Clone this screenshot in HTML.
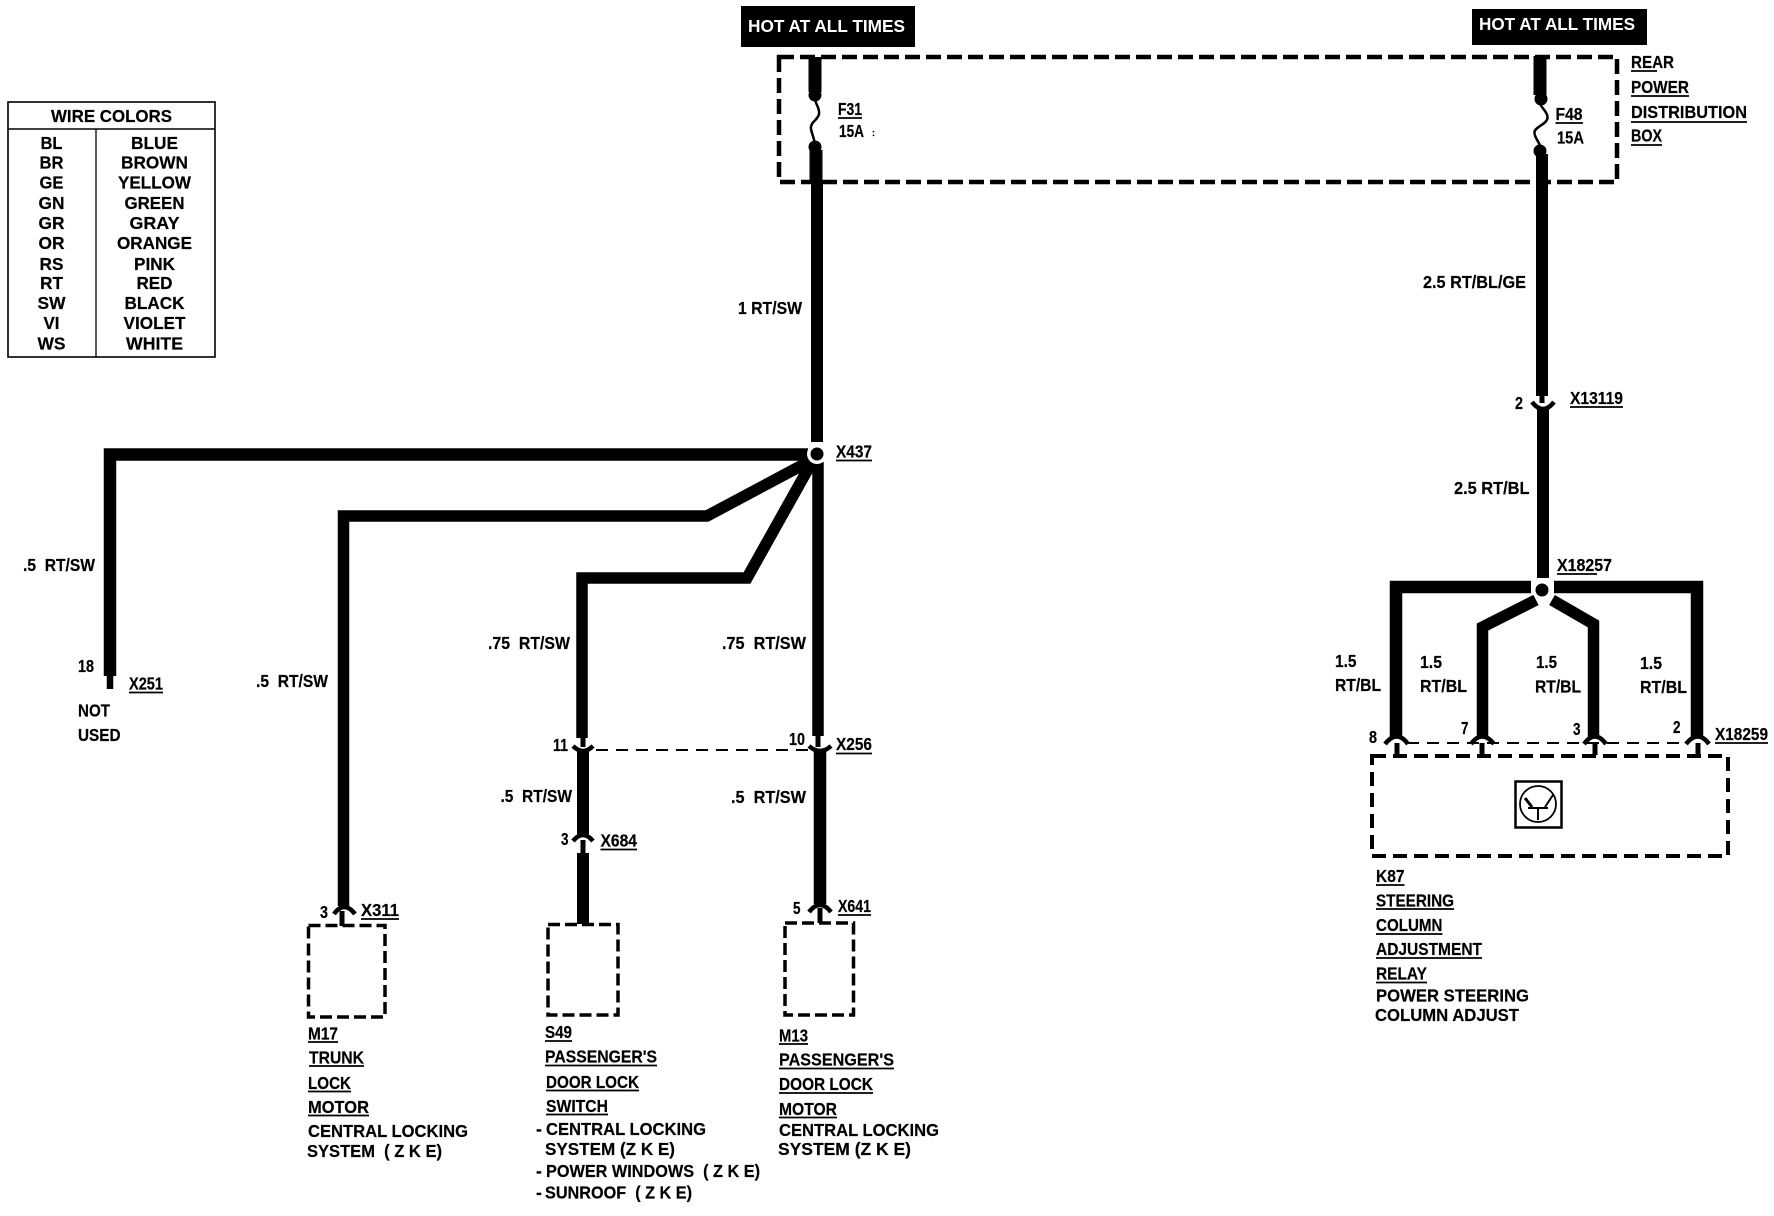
<!DOCTYPE html>
<html>
<head>
<meta charset="utf-8">
<title>Wiring diagram</title>
<style>
html,body{margin:0;padding:0;background:#fff;}
svg{display:block;}
text{font-family:"Liberation Sans",sans-serif;font-weight:bold;font-size:17.5px;fill:#000;stroke:#000;stroke-width:.2px;}
.w{fill:none;stroke:#000;stroke-linejoin:miter;stroke-linecap:butt;}
.u{stroke:#000;stroke-width:1.8;}
.c{fill:none;stroke:#000;stroke-width:4.5;}
</style>
</head>
<body>
<svg xmlns="http://www.w3.org/2000/svg" width="1774" height="1216" viewBox="0 0 1774 1216">
<rect width="1774" height="1216" fill="#fff"/>

<!-- Hot boxes -->
<rect x="741" y="6" width="174" height="41" fill="#000"/>
<text x="748" y="32" textLength="157" lengthAdjust="spacingAndGlyphs" style="fill:#fff;stroke:none">HOT AT ALL TIMES</text>
<rect x="1472" y="9" width="175" height="36" fill="#000"/>
<text x="1479" y="30" textLength="156" lengthAdjust="spacingAndGlyphs" style="fill:#fff;stroke:none">HOT AT ALL TIMES</text>

<!-- Distribution box -->
<rect x="779" y="57" width="838" height="125" fill="none" stroke="#000" stroke-width="4.5" stroke-dasharray="15 6"/>

<!-- Wire color table -->
<rect x="8" y="102" width="207" height="255" fill="none" stroke="#000" stroke-width="1.6"/>
<line x1="8" y1="129" x2="215" y2="129" stroke="#000" stroke-width="1.6"/>
<line x1="96" y1="129" x2="96" y2="357" stroke="#000" stroke-width="1.3"/>
<text x="51" y="122" textLength="121" lengthAdjust="spacingAndGlyphs">WIRE COLORS</text>
<g text-anchor="middle">
<text x="51.5" y="149" textLength="22" lengthAdjust="spacingAndGlyphs">BL</text><text x="154.5" y="149" textLength="47" lengthAdjust="spacingAndGlyphs">BLUE</text>
<text x="51.5" y="168.500" textLength="24" lengthAdjust="spacingAndGlyphs">BR</text><text x="154.5" y="168.500" textLength="67" lengthAdjust="spacingAndGlyphs">BROWN</text>
<text x="51.5" y="188.500" textLength="24" lengthAdjust="spacingAndGlyphs">GE</text><text x="154.5" y="188.500" textLength="73" lengthAdjust="spacingAndGlyphs">YELLOW</text>
<text x="51.5" y="209" textLength="26" lengthAdjust="spacingAndGlyphs">GN</text><text x="154.5" y="209" textLength="60" lengthAdjust="spacingAndGlyphs">GREEN</text>
<text x="51.5" y="229" textLength="26" lengthAdjust="spacingAndGlyphs">GR</text><text x="154.5" y="229" textLength="50" lengthAdjust="spacingAndGlyphs">GRAY</text>
<text x="51.5" y="249" textLength="26" lengthAdjust="spacingAndGlyphs">OR</text><text x="154.5" y="249" textLength="75" lengthAdjust="spacingAndGlyphs">ORANGE</text>
<text x="51.5" y="270" textLength="24" lengthAdjust="spacingAndGlyphs">RS</text><text x="154.5" y="270" textLength="41" lengthAdjust="spacingAndGlyphs">PINK</text>
<text x="51.5" y="289" textLength="23" lengthAdjust="spacingAndGlyphs">RT</text><text x="154.5" y="289" textLength="36" lengthAdjust="spacingAndGlyphs">RED</text>
<text x="51.5" y="309" textLength="28" lengthAdjust="spacingAndGlyphs">SW</text><text x="154.5" y="309" textLength="60" lengthAdjust="spacingAndGlyphs">BLACK</text>
<text x="51.5" y="329" textLength="16" lengthAdjust="spacingAndGlyphs">VI</text><text x="154.5" y="329" textLength="62" lengthAdjust="spacingAndGlyphs">VIOLET</text>
<text x="51.5" y="349.500" textLength="28" lengthAdjust="spacingAndGlyphs">WS</text><text x="154.5" y="349.500" textLength="57" lengthAdjust="spacingAndGlyphs">WHITE</text>
</g>

<!-- Left feed and fuse F31 -->
<line class="w" x1="815" y1="57" x2="815" y2="92" stroke-width="13"/>
<circle cx="815" cy="95" r="6.500"/>
<path d="M815 98 C815 104 820 108 819 114 C818 120 810 122 811 129 C812 135 815 139 815 147" fill="none" stroke="#000" stroke-width="2.500"/>
<circle cx="815" cy="147" r="6.500"/>
<line class="w" x1="816" y1="150" x2="816" y2="184" stroke-width="13"/>
<line class="w" x1="817" y1="184" x2="817" y2="442" stroke-width="12"/>

<!-- Left branches -->
<polyline class="w" points="110,676 110,454.500 808,454.500" stroke-width="12.500"/>
<line class="w" x1="110" y1="676" x2="110" y2="689" stroke-width="6.500"/>
<polyline class="w" points="343.500,906 343.500,516 707,516 812,460" stroke-width="11.500"/>
<polyline class="w" points="582,738 582,578 747,578 812,462" stroke-width="11.500"/>
<line class="w" x1="818" y1="462" x2="818" y2="736" stroke-width="11.500"/>
<circle cx="817" cy="454" r="10" fill="#fff"/>
<circle cx="817" cy="454" r="6.500"/>

<!-- X256 connectors -->
<line class="w" x1="583" y1="736" x2="583" y2="747" stroke-width="5"/>
<line class="w" x1="818" y1="736" x2="818" y2="747" stroke-width="5"/>
<path class="c" d="M573 746 Q583 756 593 746"/>
<path class="c" d="M809 746 Q820 756 831 746"/>
<line x1="596" y1="750" x2="808" y2="750" stroke="#000" stroke-width="2" stroke-dasharray="12 8"/>
<line class="w" x1="583" y1="751" x2="583" y2="834" stroke-width="12"/>
<line class="w" x1="820" y1="752" x2="820" y2="904" stroke-width="12.500"/>

<!-- X684 -->
<path class="c" d="M573 841 Q583 829 593 841"/>
<line class="w" x1="583" y1="840" x2="583" y2="853" stroke-width="5"/>
<line class="w" x1="583" y1="853" x2="583" y2="924" stroke-width="12"/>

<!-- X641 -->
<path class="c" d="M809 912 Q820 898 831 912"/>
<line class="w" x1="820" y1="908" x2="820" y2="923" stroke-width="5"/>

<!-- X311 -->
<path class="c" d="M334 914 Q344 900 355 914"/>
<line class="w" x1="342" y1="911" x2="342" y2="926" stroke-width="5"/>

<!-- Component boxes -->
<rect x="308.500" y="925.500" width="76.500" height="91.500" fill="none" stroke="#000" stroke-width="3.500" stroke-dasharray="12 5"/>
<rect x="548" y="924.500" width="70" height="90.500" fill="none" stroke="#000" stroke-width="3.500" stroke-dasharray="12 5"/>
<rect x="785" y="923" width="68.500" height="92" fill="none" stroke="#000" stroke-width="3.500" stroke-dasharray="12 5"/>

<!-- Right feed and fuse F48 -->
<line class="w" x1="1540" y1="56" x2="1540" y2="95" stroke-width="13"/>
<circle cx="1541" cy="99" r="6.500"/>
<path d="M1540 103 C1541 108 1548 112 1547.500 118 C1547 124 1535 127 1534.500 132 C1534 138 1540 142 1540 147" fill="none" stroke="#000" stroke-width="2.500"/>
<circle cx="1540" cy="151" r="6.500"/>
<line class="w" x1="1542" y1="154" x2="1542" y2="396" stroke-width="12"/>
<line class="w" x1="1542" y1="396" x2="1542" y2="403" stroke-width="5"/>
<path class="c" d="M1532 402 Q1543 416 1554 402"/>
<line class="w" x1="1543" y1="409" x2="1543" y2="578" stroke-width="12"/>

<!-- Right branches -->
<polyline class="w" points="1396,737 1396,587 1531,587" stroke-width="12.500"/>
<polyline class="w" points="1697,737 1697,587 1554,587" stroke-width="12.500"/>
<polyline class="w" points="1482.500,737 1482.500,627 1536,600" stroke-width="11.500"/>
<polyline class="w" points="1593.500,737 1593.500,624 1552,600" stroke-width="11.500"/>
<circle cx="1542" cy="590" r="10" fill="#fff"/>
<circle cx="1542" cy="590" r="6.500"/>

<!-- X18259 connectors -->
<line x1="1407" y1="743" x2="1688" y2="743" stroke="#000" stroke-width="2" stroke-dasharray="12 8"/>
<path class="c" d="M1385 744 Q1397 729 1408 744"/>
<path class="c" d="M1471 744 Q1482 729 1494 744"/>
<path class="c" d="M1584 744 Q1595 729 1606 744"/>
<path class="c" d="M1686 744 Q1698 729 1709 744"/>
<line class="w" x1="1397" y1="743" x2="1397" y2="755" stroke-width="5"/>
<line class="w" x1="1482" y1="743" x2="1482" y2="755" stroke-width="5"/>
<line class="w" x1="1595" y1="743" x2="1595" y2="755" stroke-width="5"/>
<line class="w" x1="1698" y1="743" x2="1698" y2="755" stroke-width="5"/>

<!-- K87 box -->
<rect x="1372" y="756" width="356" height="100" fill="none" stroke="#000" stroke-width="4" stroke-dasharray="14 7"/>
<rect x="1515.500" y="781.500" width="46" height="46" fill="none" stroke="#000" stroke-width="2.500"/>
<ellipse cx="1538" cy="804" rx="18" ry="18" fill="none" stroke="#000" stroke-width="1.800"/>
<line x1="1528" y1="808" x2="1548" y2="808" stroke="#000" stroke-width="2"/>
<line x1="1538" y1="808" x2="1538" y2="820" stroke="#000" stroke-width="2"/>
<line x1="1525" y1="798" x2="1532" y2="807" stroke="#000" stroke-width="3"/>
<line x1="1553" y1="795" x2="1545" y2="807" stroke="#000" stroke-width="2"/>

<!-- Fuse labels -->
<text x="838" y="115" textLength="24" lengthAdjust="spacingAndGlyphs">F31</text>
<line class="u" x1="838" y1="118" x2="862" y2="118"/>
<text x="839" y="137" textLength="25" lengthAdjust="spacingAndGlyphs">15A</text>
<text x="872" y="136" style="font-size:9px">:</text>
<text x="1555.500" y="120" textLength="27" lengthAdjust="spacingAndGlyphs">F48</text>
<line class="u" x1="1555.500" y1="123" x2="1583" y2="123"/>
<text x="1557" y="143.500" textLength="27" lengthAdjust="spacingAndGlyphs">15A</text>

<!-- Distribution box labels -->
<text x="1631" y="68" textLength="43" lengthAdjust="spacingAndGlyphs">REAR</text>
<line class="u" x1="1631" y1="71" x2="1657" y2="71"/>
<text x="1631" y="93" textLength="58" lengthAdjust="spacingAndGlyphs">POWER</text>
<line class="u" x1="1631" y1="96" x2="1689" y2="96"/>
<text x="1631" y="118" textLength="116" lengthAdjust="spacingAndGlyphs">DISTRIBUTION</text>
<line class="u" x1="1631" y1="122" x2="1747" y2="122"/>
<text x="1631" y="141.500" textLength="31" lengthAdjust="spacingAndGlyphs">BOX</text>
<line class="u" x1="1631" y1="145" x2="1662" y2="145"/>

<!-- Left wire labels -->
<text x="738" y="314" textLength="64" lengthAdjust="spacingAndGlyphs">1 RT/SW</text>
<text x="836" y="457.500" textLength="36" lengthAdjust="spacingAndGlyphs">X437</text>
<line class="u" x1="836" y1="460.500" x2="872" y2="460.500"/>
<text x="23" y="571" textLength="72" lengthAdjust="spacingAndGlyphs" xml:space="preserve">.5  RT/SW</text>
<text x="78" y="672" textLength="16" lengthAdjust="spacingAndGlyphs">18</text>
<text x="129" y="689.500" textLength="34" lengthAdjust="spacingAndGlyphs">X251</text>
<line class="u" x1="129" y1="692.500" x2="163" y2="692.500"/>
<text x="78" y="716.500" textLength="32" lengthAdjust="spacingAndGlyphs">NOT</text>
<text x="78" y="741" textLength="42.500" lengthAdjust="spacingAndGlyphs">USED</text>
<text x="256" y="687" textLength="72" lengthAdjust="spacingAndGlyphs" xml:space="preserve">.5  RT/SW</text>
<text x="488" y="649" textLength="82" lengthAdjust="spacingAndGlyphs" xml:space="preserve">.75  RT/SW</text>
<text x="722" y="649" textLength="84" lengthAdjust="spacingAndGlyphs" xml:space="preserve">.75  RT/SW</text>
<text x="553" y="751" textLength="15" lengthAdjust="spacingAndGlyphs">11</text>
<text x="789" y="745" textLength="16" lengthAdjust="spacingAndGlyphs">10</text>
<text x="836" y="750" textLength="36" lengthAdjust="spacingAndGlyphs">X256</text>
<line class="u" x1="836" y1="753.500" x2="872" y2="753.500"/>
<text x="500.500" y="802" textLength="71.500" lengthAdjust="spacingAndGlyphs" xml:space="preserve">.5  RT/SW</text>
<text x="731" y="803" textLength="75" lengthAdjust="spacingAndGlyphs" xml:space="preserve">.5  RT/SW</text>
<text x="561" y="845" textLength="7.500" lengthAdjust="spacingAndGlyphs">3</text>
<text x="600.500" y="846.500" textLength="36.500" lengthAdjust="spacingAndGlyphs">X684</text>
<line class="u" x1="600.500" y1="849.500" x2="637" y2="849.500"/>
<text x="320" y="918" textLength="8" lengthAdjust="spacingAndGlyphs">3</text>
<text x="361" y="916" textLength="38" lengthAdjust="spacingAndGlyphs">X311</text>
<line class="u" x1="361" y1="919" x2="399" y2="919"/>
<text x="793" y="914" textLength="7.500" lengthAdjust="spacingAndGlyphs">5</text>
<text x="838" y="912" textLength="33" lengthAdjust="spacingAndGlyphs">X641</text>
<line class="u" x1="838" y1="915" x2="871" y2="915"/>

<!-- M17 -->
<text x="308" y="1039.500" textLength="30" lengthAdjust="spacingAndGlyphs">M17</text>
<line class="u" x1="308" y1="1042" x2="338" y2="1042"/>
<text x="309" y="1063.500" textLength="55" lengthAdjust="spacingAndGlyphs">TRUNK</text>
<line class="u" x1="309" y1="1066" x2="364" y2="1066"/>
<text x="308" y="1089" textLength="43" lengthAdjust="spacingAndGlyphs">LOCK</text>
<line class="u" x1="308" y1="1091.500" x2="351" y2="1091.500"/>
<text x="308" y="1113" textLength="61" lengthAdjust="spacingAndGlyphs">MOTOR</text>
<line class="u" x1="308" y1="1115.500" x2="369" y2="1115.500"/>
<text x="308" y="1137" textLength="160" lengthAdjust="spacingAndGlyphs">CENTRAL LOCKING</text>
<text x="307" y="1157" textLength="135" lengthAdjust="spacingAndGlyphs" xml:space="preserve">SYSTEM  ( Z K E)</text>

<!-- S49 -->
<text x="545" y="1038" textLength="27" lengthAdjust="spacingAndGlyphs">S49</text>
<line class="u" x1="545" y1="1041" x2="572" y2="1041"/>
<text x="545" y="1062.500" textLength="112" lengthAdjust="spacingAndGlyphs">PASSENGER'S</text>
<line class="u" x1="545" y1="1065.500" x2="657" y2="1065.500"/>
<text x="546" y="1088" textLength="93" lengthAdjust="spacingAndGlyphs">DOOR LOCK</text>
<line class="u" x1="546" y1="1090.500" x2="639" y2="1090.500"/>
<text x="546" y="1112" textLength="62" lengthAdjust="spacingAndGlyphs">SWITCH</text>
<line class="u" x1="546" y1="1114.500" x2="608" y2="1114.500"/>
<text x="536" y="1135">-</text>
<text x="546" y="1135" textLength="160" lengthAdjust="spacingAndGlyphs">CENTRAL LOCKING</text>
<text x="545" y="1155" textLength="130" lengthAdjust="spacingAndGlyphs">SYSTEM (Z K E)</text>
<text x="536" y="1177">-</text>
<text x="546" y="1177" textLength="214" lengthAdjust="spacingAndGlyphs" xml:space="preserve">POWER WINDOWS  ( Z K E)</text>
<text x="536" y="1198.500">-</text>
<text x="545" y="1198.500" textLength="147" lengthAdjust="spacingAndGlyphs" xml:space="preserve">SUNROOF  ( Z K E)</text>

<!-- M13 -->
<text x="779" y="1041.500" textLength="29" lengthAdjust="spacingAndGlyphs">M13</text>
<line class="u" x1="779" y1="1044" x2="808" y2="1044"/>
<text x="779" y="1065.500" textLength="115" lengthAdjust="spacingAndGlyphs">PASSENGER'S</text>
<line class="u" x1="779" y1="1068.500" x2="894" y2="1068.500"/>
<text x="779" y="1090" textLength="94" lengthAdjust="spacingAndGlyphs">DOOR LOCK</text>
<line class="u" x1="779" y1="1093" x2="873" y2="1093"/>
<text x="779" y="1115" textLength="58" lengthAdjust="spacingAndGlyphs">MOTOR</text>
<line class="u" x1="779" y1="1117.500" x2="837" y2="1117.500"/>
<text x="779" y="1136" textLength="160" lengthAdjust="spacingAndGlyphs">CENTRAL LOCKING</text>
<text x="778" y="1155" textLength="133" lengthAdjust="spacingAndGlyphs">SYSTEM (Z K E)</text>

<!-- Right wire labels -->
<text x="1423" y="288" textLength="103" lengthAdjust="spacingAndGlyphs">2.5 RT/BL/GE</text>
<text x="1515" y="409" textLength="8" lengthAdjust="spacingAndGlyphs">2</text>
<text x="1570" y="404" textLength="53" lengthAdjust="spacingAndGlyphs">X13119</text>
<line class="u" x1="1570" y1="407" x2="1623" y2="407"/>
<text x="1454" y="494" textLength="75.500" lengthAdjust="spacingAndGlyphs">2.5 RT/BL</text>
<text x="1557" y="571" textLength="55" lengthAdjust="spacingAndGlyphs">X18257</text>
<line class="u" x1="1557" y1="574" x2="1597" y2="574"/>

<text x="1335" y="667" textLength="21.500" lengthAdjust="spacingAndGlyphs">1.5</text>
<text x="1335" y="691" textLength="46" lengthAdjust="spacingAndGlyphs">RT/BL</text>
<text x="1420" y="668" textLength="22" lengthAdjust="spacingAndGlyphs">1.5</text>
<text x="1420" y="692" textLength="47" lengthAdjust="spacingAndGlyphs">RT/BL</text>
<text x="1536" y="668" textLength="21" lengthAdjust="spacingAndGlyphs">1.5</text>
<text x="1535" y="692.500" textLength="46" lengthAdjust="spacingAndGlyphs">RT/BL</text>
<text x="1640" y="669" textLength="22" lengthAdjust="spacingAndGlyphs">1.5</text>
<text x="1640" y="693" textLength="47" lengthAdjust="spacingAndGlyphs">RT/BL</text>

<text x="1369" y="743" textLength="8" lengthAdjust="spacingAndGlyphs">8</text>
<text x="1461" y="734" textLength="7.500" lengthAdjust="spacingAndGlyphs">7</text>
<text x="1573" y="735" textLength="7.500" lengthAdjust="spacingAndGlyphs">3</text>
<text x="1673" y="733" textLength="7.500" lengthAdjust="spacingAndGlyphs">2</text>
<text x="1715" y="740" textLength="53" lengthAdjust="spacingAndGlyphs">X18259</text>
<line class="u" x1="1715" y1="743" x2="1768" y2="743"/>

<!-- K87 labels -->
<text x="1376" y="882" textLength="28.500" lengthAdjust="spacingAndGlyphs">K87</text>
<line class="u" x1="1376" y1="885" x2="1404.500" y2="885"/>
<text x="1376" y="906.500" textLength="78" lengthAdjust="spacingAndGlyphs">STEERING</text>
<line class="u" x1="1376" y1="909" x2="1454" y2="909"/>
<text x="1376" y="931" textLength="66.500" lengthAdjust="spacingAndGlyphs">COLUMN</text>
<line class="u" x1="1376" y1="934" x2="1442.500" y2="934"/>
<text x="1376" y="955" textLength="106" lengthAdjust="spacingAndGlyphs">ADJUSTMENT</text>
<line class="u" x1="1376" y1="958" x2="1482" y2="958"/>
<text x="1376" y="979.500" textLength="51" lengthAdjust="spacingAndGlyphs">RELAY</text>
<line class="u" x1="1376" y1="982.500" x2="1427" y2="982.500"/>
<text x="1376" y="1001.500" textLength="153" lengthAdjust="spacingAndGlyphs">POWER STEERING</text>
<text x="1375" y="1021" textLength="144" lengthAdjust="spacingAndGlyphs">COLUMN ADJUST</text>
</svg>
</body>
</html>
